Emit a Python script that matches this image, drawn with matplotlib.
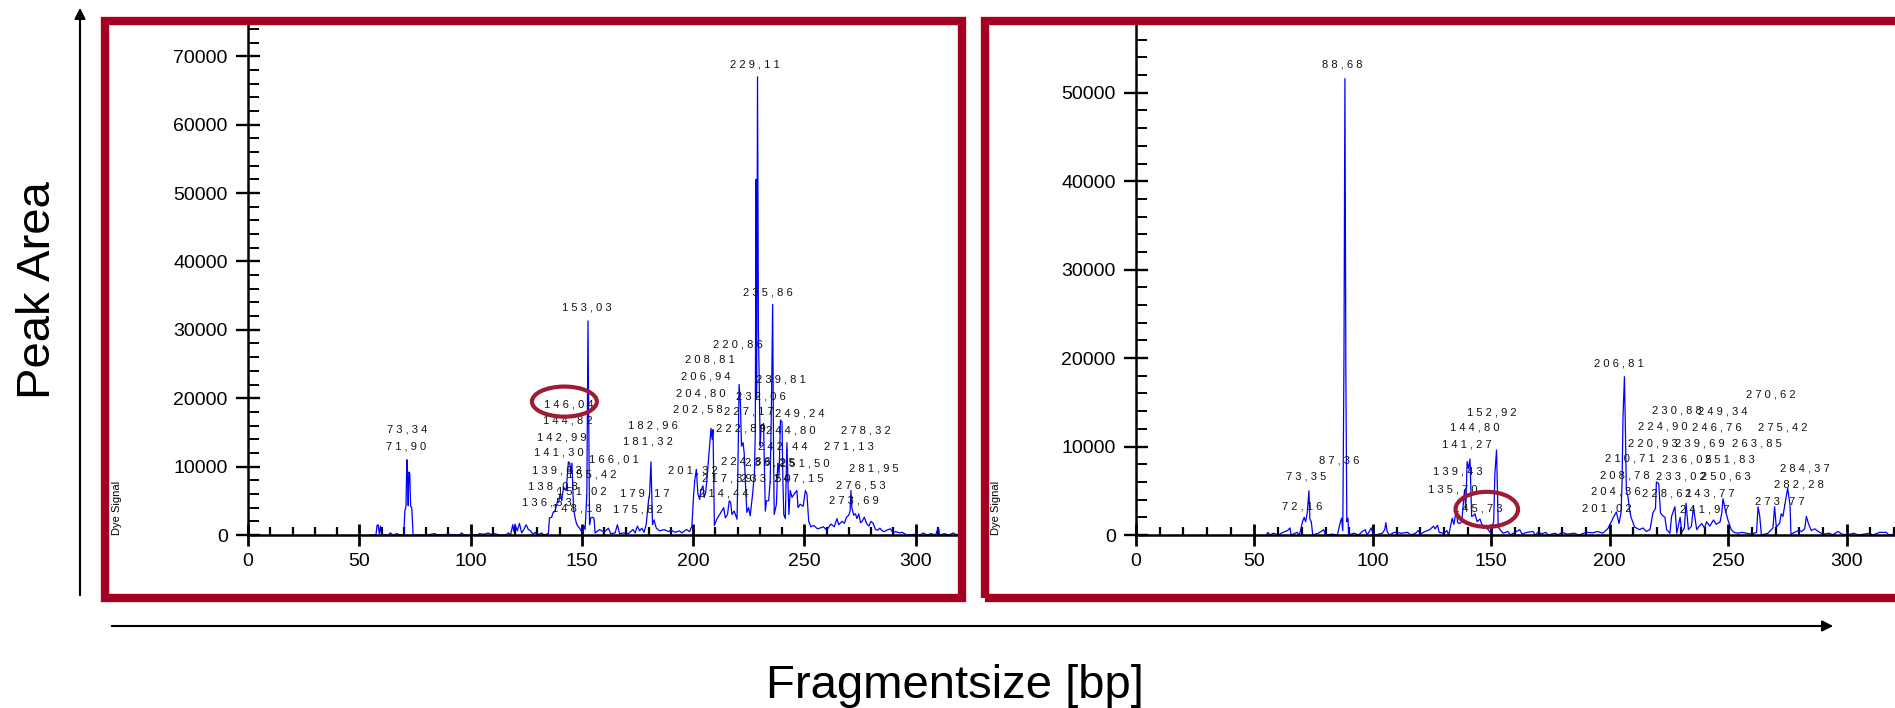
import matplotlib.pyplot as plt
import matplotlib as mpl
from matplotlib.patches import Rectangle, Ellipse
from matplotlib.ticker import MultipleLocator

mpl.rcParams['font.family'] = ['Liberation Sans', 'DejaVu Sans']

# trace of the left sample (bp, dye signal)
left_bp = [55, 57.5, 58, 58.5, 59, 59.5, 60, 63, 64, 65, 67, 68, 70, 70.5, 71, 71.4, 71.7, 72, 72.3, 72.7,
           73.1, 73.6, 74.2, 80, 84, 85, 90, 95, 96, 97, 103, 104, 106, 108, 109, 111, 113, 116, 117, 118,
           119, 119.5, 120, 121, 122, 123, 124, 125, 126, 127, 128, 129, 130, 132, 133, 135, 135.5, 136.5,
           137, 138, 139, 139.6, 140.3, 141, 141.8, 143, 144, 144.6, 145.2, 145.6, 146.3, 147, 147.7, 148.5,
           149.2, 150, 151, 151.5, 152.3, 152.8, 153.2, 153.5, 154, 155, 155.5, 156, 158, 160, 162, 163, 165,
           166, 167, 169, 171, 173, 174, 175, 176, 177, 178, 179, 180, 180.5, 181.1, 181.4, 181.8, 182.5,
           183.5, 185, 187, 189, 190, 192, 194, 195, 197, 198.5, 199.5, 200.3, 200.8, 201.5, 202.2, 203,
           203.5, 204.5, 205, 205.7, 206.5, 207.2, 208.1, 208.6, 209, 209.6, 210.8, 212, 213.8, 214.5, 215.5,
           216.3, 216.9, 217.5, 218.5, 219.8, 220.3, 220.7, 221.3, 221.8, 222.5, 223, 223.5, 224.2, 225,
           225.7, 226.8, 227.6, 228, 228.3, 228.6, 229, 229.4, 230.2, 230.6, 231, 231.7, 232.2, 232.5, 233,
           234, 234.7, 235.3, 235.8, 236.2, 236.5, 237.5, 238.1, 238.7, 239.3, 240, 240.4, 240.8, 241.5,
           242.2, 242.6, 243.1, 243.7, 244.5, 245.5, 246.7, 247.2, 248.2, 249.5, 250.5, 251.2, 252, 253,
           254.2, 256, 258.7, 260, 262, 263.5, 264.7, 265.5, 267, 268, 269, 270, 270.6, 271, 271.4, 272.2,
           273, 273.7, 274.5, 275.3, 276, 277, 278, 279, 280, 281, 282, 283, 284, 285, 286, 287, 288.7, 290,
           291, 293, 294, 296, 300, 302, 303.6, 305, 307, 309, 310.3, 310.8, 313, 315, 317, 318, 320]
left_sig = [0, 0, 1400, 1500, 200, 1300, 0, 0, 300, 0, 200, 0, 0, 3500, 4200, 11000, 8500, 4300, 9200, 9000,
            4200, 4000, 0, 0, 200, 0, 100, 0, 300, 0, 0, 200, 100, 300, 100, 200, 0, 0, 300, 0,
            1500, 500, 1600, 600, 1700, 300, 800, 1500, 800, 600, 100, 400, 0, 300, 0, 200, 2500, 2600,
            3200, 3500, 4800, 4800, 6000, 5000, 7000, 6500, 10700, 10500, 9000, 10500, 4000, 2500, 1600, 1200,
            900, 400, 1300, 800, 6000, 31300, 14000, 1500, 2500, 2600, 2400, 300, 800, 400, 1000, 200, 300,
            1500, 200, 300, 200, 800, 300, 1300, 600, 1000, 400, 1600, 5000, 6000, 10700, 7000, 1500, 2200,
            1000, 600, 800, 500, 700, 400, 600, 300, 800, 500, 1300, 6000, 8000, 9600, 6000, 5200,
            6500, 7200, 5500, 6200, 9000, 12000, 15600, 14000, 15400, 1400, 2400, 3000, 4000, 2500, 3000,
            5000, 4800, 3000, 3500, 2300, 12000, 22000, 19400, 13000, 13500, 12000, 8000, 3300, 4000,
            2800, 6000, 9000, 15000, 52000, 20000, 67000, 30000, 13000, 16000, 16000, 16300, 8000, 3500, 5000,
            5000, 8000, 20000, 33700, 12000, 3000, 4500, 10500, 9000, 16800, 16500, 8000, 3000, 2400,
            13500, 9000, 3000, 6500, 5500, 6000, 6500, 4000, 4500, 4200, 6500, 6000, 2000, 1200,
            1400, 900, 1200, 700, 1600, 1200, 2400, 1500, 2000, 1700, 2600, 2900, 3500, 6500, 4000, 2900,
            3100, 2400, 3100, 1800, 2000, 2600, 1700, 1300, 2000, 1700, 800, 700, 1000, 600, 500, 700, 900, 300,
            500, 300, 400, 0, 100, 0, 300, 0, 200, 0, 1100, 0, 200, 0, 300, 100, 0]

# trace of the right sample
right_bp = [55, 55.7, 56.5, 58, 60, 62, 64, 65, 65.5, 68, 69, 70.3, 71, 71.6, 72.3, 73, 73.4, 74, 74.6, 77,
            79.3, 80, 83, 85, 86.3, 86.8, 87.3, 87.8, 88.2, 88.6, 89, 89.5, 89.8, 92, 94, 95.5, 96.8, 97.5,
            98.5, 99.3, 100, 101, 104, 105, 105.5, 106, 107, 109, 112, 114.6, 116, 118, 119.2, 120, 122, 124,
            125.6, 126.3, 127.3, 128, 130, 131.2, 132, 133.5, 134.2, 135.2, 135.8, 136.6, 137.5, 138.7, 139.2,
            139.8, 140.4, 141, 141.4, 141.7, 142.5, 143.1, 144, 145.2, 146, 147.3, 148.7, 149.5, 150.5, 151,
            151.5, 152.2, 152.6, 152.9, 154, 155, 157, 158, 160.6, 162, 163, 165, 167.6, 168.5, 170, 171, 173,
            174, 177, 178, 180, 182, 185, 187, 190, 192.7, 195, 197, 198.3, 199.3, 200, 200.7, 201.5, 202.8,
            203.9, 204.8, 205.2, 205.6, 206.2, 206.6, 207, 207.7, 208.4, 209, 210.5, 212.6, 214, 215.4, 217,
            218.2, 219.3, 219.7, 220.7, 221.4, 222.3, 223.3, 224, 225.4, 226.1, 227.5, 228.3, 229.7, 230.4,
            231.5, 232.2, 233.2, 234.5, 235.3, 236.7, 237.5, 238.8, 240, 240.9, 242.2, 243.8, 245, 246.6,
            247.3, 247.8, 248.8, 249.9, 251.3, 252.5, 254.1, 256, 257.6, 260, 262, 262.6, 263.3, 264, 266.8,
            268.9, 269.6, 270.3, 271.7, 272.4, 273.1, 273.8, 275.1, 276.1, 276.5, 278, 279.6, 281, 282.3, 283,
            284, 285.1, 286.5, 288.6, 290, 292.8, 294, 296.4, 298, 300, 303, 305, 309.7, 311, 314, 316.7, 318,
            320]
right_sig = [0, 300, 0, 200, 0, 300, 500, 800, 0, 300, 0, 1500, 2000, 1500, 2500, 5000, 1800, 1500, 0, 200,
             600, 0, 100, 0, 1500, 1900, 500, 20000, 51600, 18000, 1500, 1900, 0, 200, 0, 400, 600, 0,
             400, 800, 200, 0, 200, 600, 1400, 400, 0, 300, 200, 300, 0, 200, 500, 100, 400, 600,
             1000, 700, 1100, 300, 200, 500, 0, 1900, 1200, 2800, 1400, 1300, 1500, 5100, 3000,
             8300, 7500, 8600, 5000, 2100, 2200, 2400, 1500, 1800, 1200, 900, 600, 300, 1100, 1500,
             6900, 9600, 5000, 900, 500, 200, 400, 0, 400, 600, 100, 300, 400, 0, 400, 100, 300,
             0, 200, 0, 300, 100, 200, 0, 300, 250, 400, 200, 500, 750, 1200, 1500, 2000, 2600,
             1300, 2600, 6000, 13400, 17900, 12000, 5100, 4300, 2800, 2000, 900, 600, 800, 400, 600,
             2500, 3000, 6000, 5800, 2500, 2200, 2000, 600, 200, 2100, 3200, 200, 2000, 300,
             800, 3600, 600, 1000, 3200, 600, 900, 1300, 800, 1500, 1000, 1700, 1200, 1500,
             2500, 4100, 2800, 1700, 600, 300, 200, 300, 200, 100, 300, 3200, 2200, 0, 200,
             800, 3200, 900, 1300, 2400, 2100, 3200, 5300, 3400, 100, 300, 500, 400, 700, 2100,
             1200, 500, 700, 300, 100, 200, 0, 400, 100, 0, 200, 0, 200, 0, 300, 300, 0,
             100]

# peak size labels
left_labels = ['229,11', '235,86', '153,03', '220,86', '208,81', '239,81', '206,94', '204,80', '232,06',
               '146,04', '202,58', '227,17', '249,24', '182,96', '144,82', '222,89', '244,80', '278,32',
               '142,99', '181,32', '242,44', '271,13', '73,34', '71,90', '141,30', '166,01', '224,86',
               '238,25', '251,50', '201,32', '139,63', '281,95', '155,42', '217,39', '233,50', '247,15',
               '138,08', '276,53', '151,02', '179,17', '214,44', '273,69', '136,53', '148,18', '175,82']
left_lab_x = [227.6, 233.7, 152.3, 220.1, 207.5, 239.3, 205.8, 203.3, 230.6,
              144.1, 202.1, 225.0, 247.8, 181.8, 143.7, 221.3, 243.8, 277.5,
              141.1, 179.6, 240.5, 270.0, 71.4, 71.2, 139.9, 164.3, 223.8,
              234.6, 250.0, 200.0, 138.8, 281.2, 154.6, 215.3, 232.5, 247.5,
              137.0, 275.2, 150.1, 178.1, 213.8, 272.2, 134.3, 147.8, 175.1]
left_lab_y = [68800, 35400, 33200, 27900, 25600, 22800, 23100, 20700, 20300,
              19100, 18400, 18000, 17800, 16000, 16700, 15600, 15300, 15300,
              14300, 13600, 13000, 13000, 15400, 13000, 12000, 11100, 10800,
              10600, 10500, 9500, 9500, 9700, 8800, 8300, 8200, 8200,
              7100, 7300, 6400, 6100, 6000, 5000, 4800, 3900, 3800]

right_labels = ['88,68', '206,81', '270,62', '230,88', '249,34', '152,92', '224,90', '246,76', '275,42',
                '144,80', '220,93', '239,69', '263,85', '141,27', '210,71', '236,05', '251,83', '87,36',
                '284,37', '139,43', '208,78', '233,02', '250,63', '73,35', '282,28', '135,70', '204,36',
                '228,61', '243,77', '273,77', '72,16', '145,73', '201,02', '241,97']
right_lab_x = [87.2, 203.8, 268.2, 228.4, 247.8, 150.4, 222.2, 245.0, 273.1,
               143.0, 218.3, 238.0, 262.2, 139.5, 208.4, 232.4, 250.6, 85.7,
               282.3, 135.7, 206.3, 230.2, 249.2, 71.7, 279.9, 133.6, 202.5,
               224.2, 242.2, 271.7, 70.3, 144.4, 198.6, 240.1]
right_lab_y = [53200, 19400, 15900, 14100, 14000, 13900, 12300, 12200, 12200,
               12100, 10400, 10300, 10300, 10200, 8600, 8500, 8500, 8400,
               7500, 7200, 6700, 6600, 6600, 6600, 5700, 5100, 4900,
               4700, 4700, 3800, 3200, 3000, 3000, 2900]

red = '#a50021'
W, H = 1895, 708
fig = plt.figure(figsize=(W / 100, H / 100), dpi=100)

def fx(px):
    return px / W

def fy(py):
    return 1 - py / H

# red frames round the two panels
fig.patches.append(Rectangle((fx(105), fy(598)), fx(962 - 105), (598 - 21) / H, transform=fig.transFigure,
                             fill=False, ec=red, lw=6, zorder=0))
fig.patches.append(Rectangle((fx(985), fy(598)), fx(1960 - 985), (598 - 21) / H, transform=fig.transFigure,
                             fill=False, ec=red, lw=6, zorder=0))

ax1 = fig.add_axes([fx(248), fy(535), fx(960 - 248), (535 - 22) / H])
ax2 = fig.add_axes([fx(1136), fy(535), fx(1894 - 1136), (535 - 22) / H])

panels = [(ax1, left_bp, left_sig, left_labels, left_lab_x, left_lab_y, 75000),
          (ax2, right_bp, right_sig, right_labels, right_lab_x, right_lab_y, 58000)]

for ax, bp, sig, labs, lx, ly, top in panels:
    ax.set_facecolor('none')
    ax.plot(bp, sig, color='#0000ff', lw=0.9, zorder=2)
    ax.set_xlim(0, 320)
    ax.set_ylim(0, top)
    for s in ['top', 'right']:
        ax.spines[s].set_visible(False)
    for s in ['left', 'bottom']:
        ax.spines[s].set_linewidth(1.8)
    ax.xaxis.set_major_locator(MultipleLocator(50))
    ax.xaxis.set_minor_locator(MultipleLocator(10))
    ax.yaxis.set_major_locator(MultipleLocator(10000))
    ax.yaxis.set_minor_locator(MultipleLocator(2000))
    ax.tick_params(axis='y', which='major', direction='inout', length=17, width=1.7, pad=6, labelsize=14)
    ax.tick_params(axis='y', which='minor', direction='in', length=8, width=1.4)
    ax.tick_params(axis='x', which='major', direction='inout', length=16, width=2.0, pad=5, labelsize=14)
    ax.tick_params(axis='x', which='minor', direction='in', length=6, width=1.6)
    for t, x, y in zip(labs, lx, ly):
        ax.text(x, y, ' '.join(t), fontsize=8, color='#111111', ha='center', va='center', zorder=3)

ax1.add_patch(Ellipse((142.2, 19500), 29.2, 4400, fill=False, ec='#9e1b32', lw=3, zorder=4))
ax2.add_patch(Ellipse((148.1, 2900), 26.4, 3960, fill=False, ec='#9e1b32', lw=3, zorder=4))

fig.text(fx(117), fy(535), 'Dye Signal', rotation=90, fontsize=8, ha='center', va='bottom')
fig.text(fx(996), fy(535), 'Dye Signal', rotation=90, fontsize=8, ha='center', va='bottom')

# outer axis arrows and titles
fig.add_artist(mpl.patches.FancyArrowPatch((fx(80), fy(598)), (fx(80), fy(5)), transform=fig.transFigure,
                                           arrowstyle='-|>', mutation_scale=16, lw=1.5, color='black'))
fig.add_artist(mpl.patches.FancyArrowPatch((fx(109), fy(626)), (fx(1836), fy(626)), transform=fig.transFigure,
                                           arrowstyle='-|>', mutation_scale=16, lw=1.5, color='black'))
fig.text(fx(38), fy(290), 'Peak Area', rotation=90, fontsize=34, ha='center', va='center')
fig.text(fx(955), fy(686), 'Fragmentsize [bp]', fontsize=34, ha='center', va='center')

fig.savefig('out.png', dpi=100)
